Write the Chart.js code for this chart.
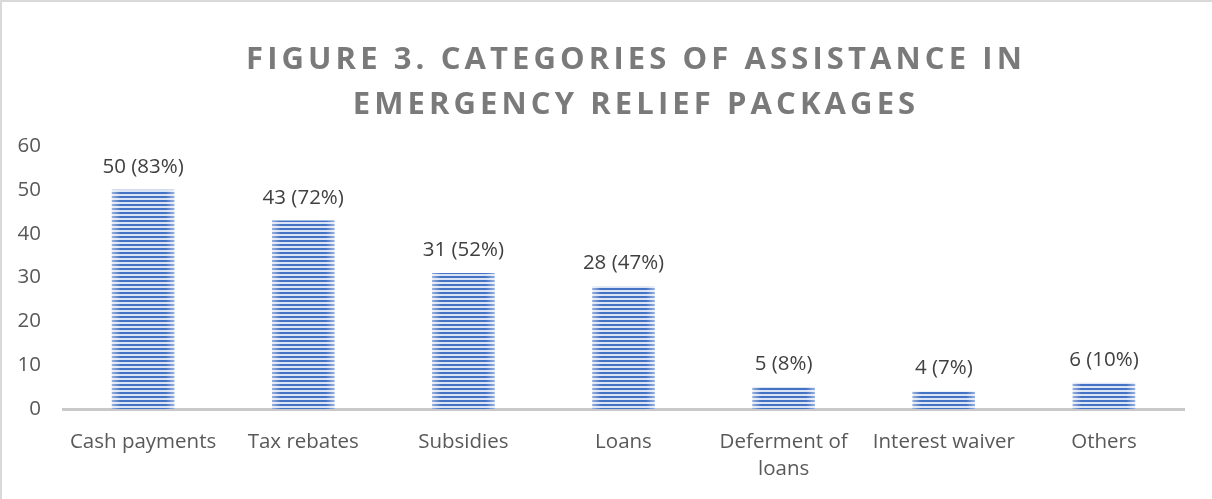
<!DOCTYPE html>
<html>
<head>
<meta charset="utf-8">
<script src="https://cdn.jsdelivr.net/npm/chart.js@4.4.1/dist/chart.umd.min.js"></script>
<style>
  html, body { margin: 0; padding: 0; background: #ffffff; }
  #wrap { width: 1212px; height: 499px; position: relative; }
  canvas { display: block; }
</style>
</head>
<body>
<div id="wrap"><canvas id="chart" width="1212" height="499"></canvas></div>
<script>
// Categories of assistance and how many packages included each
const categories = ['Cash payments', 'Tax rebates', 'Subsidies', 'Loans', ['Deferment of', 'loans'], 'Interest waiver', 'Others'];
const counts = [50, 43, 31, 28, 5, 4, 6];
const shares = [83, 72, 52, 47, 8, 7, 10];
const yTicks = [0, 10, 20, 30, 40, 50, 60];
const titleLines = ['FIGURE 3. CATEGORIES OF ASSISTANCE IN', 'EMERGENCY RELIEF PACKAGES'];

// Horizontal stripe fill for the bars
function stripePattern(ctx) {
  const c = document.createElement('canvas');
  c.width = 4; c.height = 4;
  const p = c.getContext('2d');
  p.fillStyle = '#dbe4f4';
  p.fillRect(0, 0, 4, 4);
  p.fillStyle = '#4472c4';
  p.fillRect(0, 0, 4, 2);
  return ctx.createPattern(c, 'repeat');
}

const canvas = document.getElementById('chart');
const ctx = canvas.getContext('2d');

// Thin frame along the top and left edges
const framePlugin = {
  id: 'frame',
  beforeDraw(chart) {
    const c = chart.ctx;
    c.save();
    c.strokeStyle = '#d9d9d9';
    c.lineWidth = 2;
    c.beginPath();
    c.moveTo(1, chart.height);
    c.lineTo(1, 1);
    c.lineTo(chart.width, 1);
    c.stroke();
    c.restore();
  }
};

// Spaced-out two-line heading
const headingPlugin = {
  id: 'heading',
  afterDraw(chart) {
    const c = chart.ctx;
    c.save();
    c.font = 'bold 31px "Open Sans"';
    c.fillStyle = '#7a7a7a';
    c.textAlign = 'center';
    c.textBaseline = 'alphabetic';
    if ('letterSpacing' in c) c.letterSpacing = '4.1px';
    const cx = 636;
    c.fillText(titleLines[0], cx, 69);
    c.fillText(titleLines[1], cx, 114);
    c.restore();
  }
};

// Soft lighter edges on each bar, plus the value labels above them
const barDecorPlugin = {
  id: 'barDecor',
  afterDatasetsDraw(chart) {
    const c = chart.ctx;
    const meta = chart.getDatasetMeta(0);
    c.save();
    meta.data.forEach((bar) => {
      const left = bar.x - bar.width / 2;
      const right = bar.x + bar.width / 2;
      const g = c.createLinearGradient(left, 0, right, 0);
      g.addColorStop(0, 'rgba(255,255,255,0.45)');
      g.addColorStop(0.14, 'rgba(255,255,255,0)');
      g.addColorStop(0.86, 'rgba(255,255,255,0)');
      g.addColorStop(1, 'rgba(255,255,255,0.45)');
      c.fillStyle = g;
      c.fillRect(left, bar.y, bar.width, bar.base - bar.y);
    });
    c.font = '20.5px "Open Sans"';
    c.fillStyle = '#404040';
    c.textAlign = 'center';
    c.textBaseline = 'alphabetic';
    meta.data.forEach((bar, i) => {
      c.fillText(counts[i] + ' (' + shares[i] + '%)', bar.x, bar.y - 17);
    });
    c.restore();
  }
};

new Chart(ctx, {
  type: 'bar',
  data: {
    labels: categories,
    datasets: [{
      data: counts,
      backgroundColor: stripePattern(ctx),
      borderWidth: 0,
      categoryPercentage: 1,
      barPercentage: 0.39
    }]
  },
  options: {
    responsive: false,
    animation: false,
    events: [],
    layout: { padding: { left: 0, right: 28, top: 146, bottom: 0 } },
    plugins: {
      legend: { display: false },
      title: { display: false },
      tooltip: { enabled: false }
    },
    scales: {
      x: {
        grid: { display: false, drawTicks: false },
        border: { display: true, color: '#c9c9c9', width: 3 },
        ticks: {
          color: '#595959',
          font: { family: 'Open Sans', size: 20.5, lineHeight: 1.35 },
          padding: 19,
          maxRotation: 0,
          autoSkip: false
        },
        afterFit(scale) { scale.height = 90; }
      },
      y: {
        min: 0,
        max: 60,
        afterBuildTicks(scale) { scale.ticks = yTicks.map(v => ({ value: v })); },
        grid: { display: false, drawTicks: false },
        border: { display: false },
        ticks: {
          color: '#595959',
          font: { family: 'Open Sans', size: 20.5 },
          padding: 22
        },
        afterFit(scale) { scale.width = 63; }
      }
    }
  },
  plugins: [framePlugin, barDecorPlugin, headingPlugin]
});
</script>
</body>
</html>
